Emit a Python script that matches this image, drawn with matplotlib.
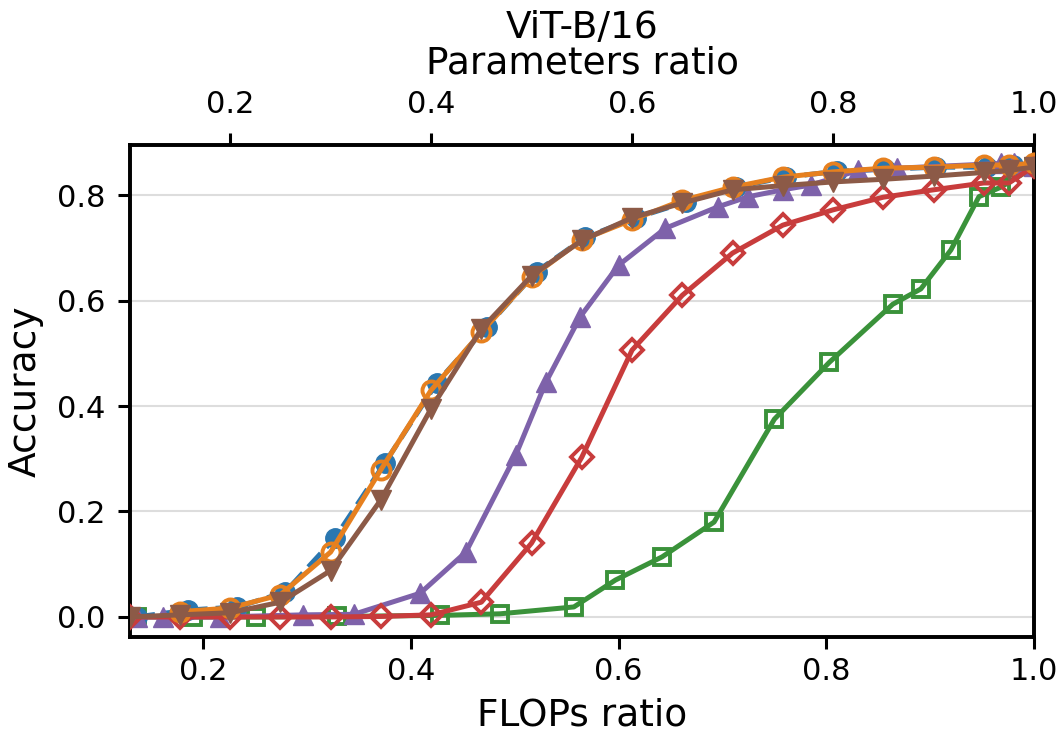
import matplotlib
matplotlib.use("Agg")
import matplotlib.pyplot as plt

# ---------------- data ----------------
# series plotted against FLOPs ratio (bottom axis)
blue_x = [0.136, 0.185, 0.233, 0.279, 0.327, 0.375, 0.425, 0.473, 0.521, 0.568,
          0.617, 0.665, 0.713, 0.761, 0.810, 0.857, 0.906, 0.955, 0.980]
blue_y = [0.000, 0.013, 0.019, 0.047, 0.150, 0.292, 0.444, 0.550, 0.655, 0.720,
          0.757, 0.787, 0.815, 0.834, 0.845, 0.849, 0.853, 0.853, 0.858]

green_x = [0.136, 0.190, 0.251, 0.329, 0.428, 0.486, 0.557, 0.597, 0.642, 0.692,
           0.750, 0.803, 0.864, 0.891, 0.920, 0.947, 0.968, 1.000]
green_y = [0.000, 0.000, 0.000, 0.001, 0.003, 0.006, 0.019, 0.070, 0.114, 0.180,
           0.375, 0.483, 0.593, 0.622, 0.696, 0.797, 0.815, 0.853]

purple_x = [0.136, 0.161, 0.216, 0.296, 0.345, 0.409, 0.453, 0.501, 0.530, 0.563,
            0.600, 0.645, 0.696, 0.725, 0.758, 0.785, 0.831, 0.868, 0.968, 0.981, 1.000]
purple_y = [0.000, 0.000, 0.000, 0.004, 0.005, 0.045, 0.123, 0.307, 0.445, 0.569,
            0.667, 0.737, 0.778, 0.797, 0.810, 0.819, 0.847, 0.851, 0.860, 0.860, 0.856]

# series plotted against Parameters ratio (top axis)
orange_x = [0.15, 0.20, 0.25, 0.30, 0.35, 0.40, 0.45, 0.50, 0.55, 0.60,
            0.65, 0.70, 0.75, 0.80, 0.85, 0.90, 0.95, 0.975, 1.00]
orange_y = [0.010, 0.017, 0.042, 0.123, 0.279, 0.430, 0.540, 0.645, 0.715, 0.753,
            0.790, 0.815, 0.834, 0.844, 0.851, 0.853, 0.857, 0.857, 0.860]

brown_x = [0.10, 0.15, 0.20, 0.25, 0.30, 0.35, 0.40, 0.45, 0.50, 0.55,
           0.60, 0.65, 0.70, 0.75, 0.80, 0.85, 0.90, 0.95, 0.975, 1.00]
brown_y = [0.000, 0.004, 0.008, 0.028, 0.088, 0.222, 0.395, 0.546, 0.647, 0.714,
           0.757, 0.785, 0.810, 0.818, 0.825, 0.830, 0.836, 0.843, 0.847, 0.853]

red_x = [0.10, 0.15, 0.20, 0.25, 0.30, 0.35, 0.40, 0.45, 0.50, 0.55,
         0.60, 0.65, 0.70, 0.75, 0.80, 0.85, 0.90, 0.95, 0.975, 1.00]
red_y = [0.000, 0.000, 0.000, 0.000, 0.000, 0.001, 0.004, 0.028, 0.140, 0.303,
         0.506, 0.610, 0.690, 0.743, 0.772, 0.796, 0.810, 0.823, 0.823, 0.855]

y_ticks = [0.0, 0.2, 0.4, 0.6, 0.8]
x_ticks = [0.2, 0.4, 0.6, 0.8, 1.0]

# ---------------- style ----------------
C_BLUE = "#2a77b0"
C_ORANGE = "#e6801f"
C_GREEN = "#3a923a"
C_RED = "#c83c3c"
C_PURPLE = "#7e62aa"
C_BROWN = "#8c5a47"

plt.rcParams["font.family"] = ["DejaVu Sans"]
TICK_FS = 22
LABEL_FS = 27
LW = 3.6
MEW = 2.8

fig = plt.figure(figsize=(10.59, 7.40), dpi=100)
ax = fig.add_axes([130 / 1059, 1 - 637 / 740, (1034 - 130) / 1059, (637 - 145) / 740])
ax2 = ax.twiny()

# bottom-axis series
ax.plot(green_x, green_y, "-", color=C_GREEN, lw=LW, marker="s", ms=11,
        mfc="none", mec=C_GREEN, mew=MEW, zorder=3)
ax.plot(blue_x, blue_y, "--", color=C_BLUE, lw=LW, marker="o", ms=14,
        mfc=C_BLUE, mec=C_BLUE, zorder=3)
ax.plot(purple_x, purple_y, "-", color=C_PURPLE, lw=LW, marker="^", ms=14,
        mfc=C_PURPLE, mec=C_PURPLE, zorder=3)

# top-axis series
ax2.plot(red_x, red_y, "-", color=C_RED, lw=LW, marker="D", ms=11,
         mfc="none", mec=C_RED, mew=MEW, zorder=3)
ax2.plot(orange_x, orange_y, "-", color=C_ORANGE, lw=LW, marker="o", ms=13,
         mfc="none", mec=C_ORANGE, mew=MEW, zorder=3)
ax2.plot(brown_x, brown_y, "-", color=C_BROWN, lw=LW, marker="v", ms=14,
         mfc=C_BROWN, mec=C_BROWN, zorder=3)

ax.set_xlim(0.1296, 1.0)
ax2.set_xlim(0.1004, 1.0)
ax.set_ylim(-0.038, 0.895)

ax.set_yticks(y_ticks)
ax.set_yticklabels([f"{v:.1f}" for v in y_ticks])
ax.set_xticks(x_ticks)
ax.set_xticklabels([f"{v:.1f}" for v in x_ticks])
ax2.set_xticks(x_ticks)
ax2.set_xticklabels([f"{v:.1f}" for v in x_ticks])

ax.grid(axis="y", color="#dddddd", lw=1.5, zorder=0)
ax.set_axisbelow(True)

for a in (ax, ax2):
    for s in a.spines.values():
        s.set_linewidth(2.6)
        s.set_color("black")
    a.tick_params(axis="both", labelsize=TICK_FS, length=8.5, width=2.2,
                  direction="out", colors="black")
ax.tick_params(axis="x", pad=6)
ax.tick_params(axis="y", pad=9)
ax2.tick_params(axis="x", pad=10)

ax.set_xlabel("FLOPs ratio", fontsize=LABEL_FS, labelpad=8)
ax.set_ylabel("Accuracy", fontsize=LABEL_FS, labelpad=10)
ax2.set_xlabel("Parameters ratio", fontsize=LABEL_FS, labelpad=12)
ax2.set_title("ViT-B/16", fontsize=LABEL_FS, pad=-2)

fig.savefig("out.png", dpi=100, facecolor="white")
